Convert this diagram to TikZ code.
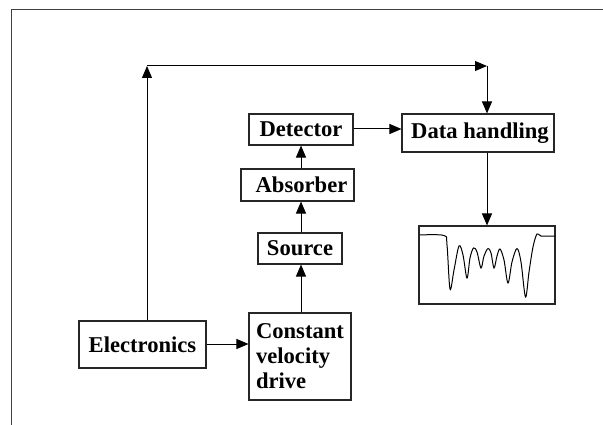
\documentclass[tikz,border=0pt]{standalone}
\usepackage{fontspec}
\setmainfont{Liberation Serif}
\usetikzlibrary{arrows.meta}
\begin{document}
\begin{tikzpicture}[x=1pt,y=-1pt,
  box/.style={draw=black!85,line width=1.1pt,inner sep=0pt,
    font=\fontsize{22.6}{25}\selectfont\bfseries},
  arr/.style={line width=1pt,-{Triangle[length=12pt,width=10pt]}},
  frameline/.style={draw=black!75,line width=1pt}]
\useasboundingbox (0,0) rectangle (603,425);
\draw[frameline] (11,425) -- (11,10) -- (603,10);
\node[box,minimum width=127pt,minimum height=47pt] (elec) at (142.5,344.5) {Electronics};
\node[box,minimum width=102pt,minimum height=87pt,align=left] (drive) at (300,356.5) {Constant\\velocity\\drive};
\node[box,minimum width=84pt,minimum height=31pt] (src) at (300,248.5) {Source};
\node[box,minimum width=113pt,minimum height=32pt] (abs) at (297.5,185) {\hspace*{8pt}Absorber};
\node[box,minimum width=104pt,minimum height=31pt] (det) at (301,129.5) {Detector};
\node[box,minimum width=152pt,minimum height=38pt] (dh) at (478,133) {\hspace*{4pt}Data handling};
\node[box,minimum width=136pt,minimum height=78pt] (spec) at (487,265) {};
\coordinate (c1) at (147,66);
\coordinate (c2) at (487,66);
\coordinate (cs) at (301,0);
\coordinate (ce) at (0,344);
\coordinate (cd) at (0,129);
\draw[arr] (elec.east |- ce) -- (drive.west |- ce);
\draw[arr] (elec.north -| c1) -- (c1);
\draw[arr] (c1) -- (c2);
\draw[arr] (c2) -- (dh.north -| c2);
\draw[arr] (drive.north -| cs) -- (src.south -| cs);
\draw[arr] (src.north -| cs) -- (abs.south -| cs);
\draw[arr] (abs.north -| cs) -- (det.south -| cs);
\draw[arr] (det.east |- cd) -- (dh.west |- cd);
\draw[arr] (dh.south -| c2) -- (spec.north -| c2);
\draw[line width=1pt,smooth,tension=0.55] plot coordinates {
 (420,235) (444,235.5) (447,245) (450,289) (454,270) (459,246) (463,255)
 (467,278) (470,258) (473.5,248) (477,252) (481,268) (484,256) (488,248.5)
 (491,253) (494,268) (497,256) (500,249) (504,260) (508,283) (512,262)
 (517,248.5) (521,262) (525.5,297) (529,272) (533,247) (537,234) (541,236) (555,236)};
\end{tikzpicture}
\end{document}
